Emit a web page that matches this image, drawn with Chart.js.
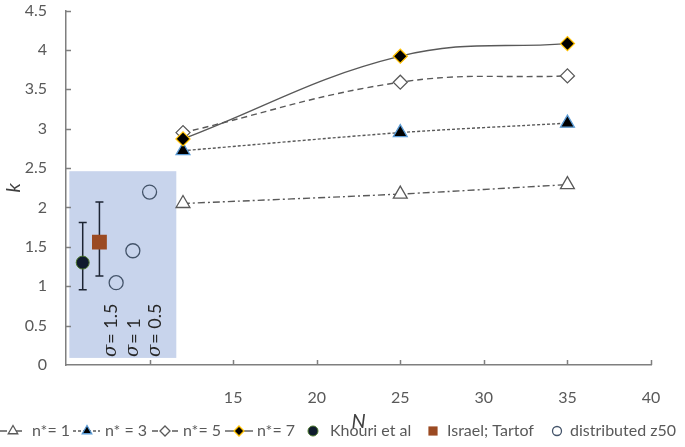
<!DOCTYPE html>
<html><head><meta charset="utf-8">
<script src="https://cdn.jsdelivr.net/npm/chart.js@4/dist/chart.umd.min.js"></script>
<style>html,body{margin:0;padding:0;background:#fff}#wrap{width:685px;height:447px;position:relative}</style>
</head><body><div id="wrap"><canvas id="c" width="685" height="447"></canvas></div>
<script>
// ---- data ----
const N_VALUES = [12, 25, 35];
const K_NSTAR_1 = [2.05, 2.17, 2.29];
const K_NSTAR_3 = [2.72, 2.95, 3.07];
const K_NSTAR_5 = [2.95, 3.59, 3.67];
const K_NSTAR_7 = [2.87, 3.92, 4.08];

const KHOURI_N = [6];
const KHOURI_K = [1.30];
const KHOURI_LOW = [0.955];
const KHOURI_HIGH = [1.81];

const ISRAEL_N = [7];
const ISRAEL_K = [1.56];
const ISRAEL_LOW = [1.13];
const ISRAEL_HIGH = [2.07];

const DIST_N = [8, 9, 10];
const DIST_K = [1.045, 1.45, 2.195];

const SIGMA_LABELS = ['1.5', '1', '0.5'];
const SIGMA_N = [7.7, 9.05, 10.35];
const SIGMA_K = [0.1, 0.1, 0.1];

const BOX_N = [5.2, 11.6];
const BOX_K = [0.09, 2.46];

const X_RANGE = [5, 40];
const X_STEP = 5;
const X_FIRST_LABEL = 15;
const Y_RANGE = [0, 4.5];
const Y_STEP = 0.5;

const SERIES_LABELS = ['n*= 1', 'n* = 3', 'n*= 5', 'n*= 7', 'Khouri et al', 'Israel; Tartof', 'distributed z50'];

const pts = (xs, ys) => xs.map((x, i) => ({x: x, y: ys[i]}));
const FONT = 'Lato';
const GREY = '#595959';

function drawMarker(ctx, style, x, y, r, fill, stroke, lw) {
  ctx.save();
  ctx.setLineDash([]);
  ctx.beginPath();
  if (style === 'triangle') {
    const s = Math.sin(Math.PI / 3) * r;
    ctx.moveTo(x, y - r); ctx.lineTo(x + s, y + r / 2); ctx.lineTo(x - s, y + r / 2); ctx.closePath();
  } else if (style === 'rectRot') {
    ctx.moveTo(x, y - r); ctx.lineTo(x + r, y); ctx.lineTo(x, y + r); ctx.lineTo(x - r, y); ctx.closePath();
  } else if (style === 'rect') {
    const h = r * Math.SQRT1_2;
    ctx.rect(x - h, y - h, 2 * h, 2 * h);
  } else {
    ctx.arc(x, y, r, 0, Math.PI * 2);
  }
  if (fill && fill !== 'transparent') { ctx.fillStyle = fill; ctx.fill(); }
  if (lw) { ctx.lineWidth = lw; ctx.strokeStyle = stroke; ctx.stroke(); }
  ctx.restore();
}

const decor = {
  id: 'decor',
  beforeDatasetsDraw(chart) {
    const {ctx, chartArea: ca} = chart;
    const x = chart.scales.x, y = chart.scales.y;
    ctx.save();
    // shaded box
    const bx0 = x.getPixelForValue(BOX_N[0]), bx1 = x.getPixelForValue(BOX_N[1]);
    const by0 = y.getPixelForValue(BOX_K[1]), by1 = y.getPixelForValue(BOX_K[0]);
    ctx.fillStyle = '#c8d4ec';
    ctx.fillRect(bx0, by0, bx1 - bx0, by1 - by0);
    // inward tick marks
    ctx.strokeStyle = '#7f7f7f';
    ctx.lineWidth = 1.5;
    ctx.beginPath();
    x.ticks.forEach(t => {
      const px = Math.round(x.getPixelForValue(t.value)) + 0.5;
      if (px <= ca.left + 2) return;
      ctx.moveTo(px, ca.bottom); ctx.lineTo(px, ca.bottom - 5);
    });
    y.ticks.forEach(t => {
      const py = Math.round(y.getPixelForValue(t.value)) + 0.5;
      if (py >= ca.bottom - 2) return;
      ctx.moveTo(ca.left, py); ctx.lineTo(ca.left + 5, py);
    });
    ctx.stroke();
    // error bars
    ctx.strokeStyle = '#1c2433';
    ctx.lineWidth = 1.5;
    const bars = [[KHOURI_N, KHOURI_LOW, KHOURI_HIGH], [ISRAEL_N, ISRAEL_LOW, ISRAEL_HIGH]];
    bars.forEach(([xs, lo, hi]) => {
      xs.forEach((v, i) => {
        const px = x.getPixelForValue(v);
        const p0 = y.getPixelForValue(lo[i]), p1 = y.getPixelForValue(hi[i]);
        ctx.beginPath();
        ctx.moveTo(px, p0); ctx.lineTo(px, p1);
        ctx.moveTo(px - 4, p0); ctx.lineTo(px + 4, p0);
        ctx.moveTo(px - 4, p1); ctx.lineTo(px + 4, p1);
        ctx.stroke();
      });
    });
    // sigma labels
    ctx.fillStyle = '#262626';
    ctx.textBaseline = 'middle';
    ctx.textAlign = 'left';
    SIGMA_LABELS.forEach((lab, i) => {
      ctx.save();
      ctx.translate(x.getPixelForValue(SIGMA_N[i]), y.getPixelForValue(SIGMA_K[i]));
      ctx.rotate(-Math.PI / 2);
      ctx.font = 'italic 18px "DejaVu Serif"';
      ctx.fillText('σ', 0, 0);
      const w = ctx.measureText('σ').width;
      ctx.font = '18px ' + FONT;
      ctx.fillText('= ' + lab, w + 1, 0);
      ctx.restore();
    });
    ctx.restore();
  },
  afterDraw(chart) {
    const ctx = chart.ctx;
    const ly = 431;
    const items = [
      {ds: 0, x0: 0, x1: 25, m: 13, tx: 32, r: 5.5},
      {ds: 1, x0: 73, x1: 100, m: 87, tx: 105, r: 5.5},
      {ds: 2, x0: 152, x1: 178, m: 165, tx: 183, r: 5},
      {ds: 3, x0: 225, x1: 253, m: 239, tx: 257, r: 5},
      {ds: 4, m: 313, tx: 330, r: 5},
      {ds: 5, m: 433, tx: 447, r: 6.5},
      {ds: 6, m: 557, tx: 570, r: 4.5}
    ];
    ctx.save();
    items.forEach(it => {
      const ds = chart.data.datasets[it.ds];
      if (it.x0 !== undefined) {
        ctx.save();
        ctx.setLineDash(ds.borderDash || []);
        ctx.strokeStyle = ds.borderColor;
        ctx.lineWidth = ds.borderWidth;
        ctx.beginPath(); ctx.moveTo(it.x0, ly); ctx.lineTo(it.x1, ly); ctx.stroke();
        ctx.restore();
      }
      drawMarker(ctx, ds.pointStyle, it.m, ly, it.r, ds.pointBackgroundColor, ds.pointBorderColor, ds.pointBorderWidth);
      ctx.fillStyle = GREY;
      ctx.font = '16px ' + FONT;
      ctx.textBaseline = 'middle';
      ctx.textAlign = 'left';
      ctx.fillText(ds.label, it.tx, ly);
    });
    ctx.restore();
  }
};

const lineDs = (label, ys, dash, style, radius, bg, border, order, tension) => ({
  label: label, data: pts(N_VALUES, ys), showLine: true, fill: false,
  borderColor: GREY, borderWidth: 1.4, borderDash: dash, tension: tension,
  pointStyle: style, pointRadius: radius, pointHoverRadius: radius,
  pointBackgroundColor: bg, pointBorderColor: border, pointBorderWidth: 1.3, order: order
});

new Chart(document.getElementById('c'), {
  type: 'scatter',
  data: {
    datasets: [
      lineDs(SERIES_LABELS[0], K_NSTAR_1, [7, 3, 2, 3], 'triangle', 8, '#ffffff', GREY, 7, 0.3),
      lineDs(SERIES_LABELS[1], K_NSTAR_3, [3, 2], 'triangle', 8, '#000000', '#5b9bd5', 6, 0.3),
      lineDs(SERIES_LABELS[2], K_NSTAR_5, [6, 4], 'rectRot', 7, '#ffffff', GREY, 5, 0.4),
      lineDs(SERIES_LABELS[3], K_NSTAR_7, [], 'rectRot', 7, '#000000', '#ffc000', 4, 0.4),
      {label: SERIES_LABELS[4], data: pts(KHOURI_N, KHOURI_K), showLine: false,
       pointStyle: 'circle', pointRadius: 6.5, pointHoverRadius: 6.5,
       pointBackgroundColor: '#0f1b2d', pointBorderColor: '#4e7a2e', pointBorderWidth: 1, order: 3},
      {label: SERIES_LABELS[5], data: pts(ISRAEL_N, ISRAEL_K), showLine: false,
       pointStyle: 'rect', pointRadius: 10.5, pointHoverRadius: 10.5,
       pointBackgroundColor: '#9b4a22', pointBorderColor: '#9b4a22', pointBorderWidth: 0, order: 2},
      {label: SERIES_LABELS[6], data: pts(DIST_N, DIST_K), showLine: false,
       pointStyle: 'circle', pointRadius: 7, pointHoverRadius: 7,
       pointBackgroundColor: 'transparent', pointBorderColor: '#44546a', pointBorderWidth: 1.3, order: 1}
    ]
  },
  options: {
    responsive: false,
    animation: false,
    events: [],
    layout: {padding: {top: 6.5, right: 34, bottom: 0, left: 0}},
    plugins: {legend: {display: false}, tooltip: {enabled: false}},
    scales: {
      x: {
        type: 'linear', min: X_RANGE[0], max: X_RANGE[1],
        grid: {drawOnChartArea: false, drawTicks: false},
        border: {color: '#7f7f7f', width: 1.5},
        ticks: {stepSize: X_STEP, padding: 23, color: GREY, font: {family: FONT, size: 16},
                callback: v => (v < X_FIRST_LABEL ? '' : String(v))},
        title: {display: true, text: 'N', color: '#404040',
                font: {family: FONT, size: 20, style: 'italic'}, padding: {top: 0, bottom: 13}},
        afterFit: s => { s.height = 82; s.paddingLeft = 0; s.paddingRight = 0; }
      },
      y: {
        min: Y_RANGE[0], max: Y_RANGE[1],
        grid: {drawOnChartArea: false, drawTicks: false},
        border: {color: '#7f7f7f', width: 1.5},
        ticks: {stepSize: Y_STEP, padding: 19, color: GREY, font: {family: FONT, size: 16},
                callback: v => String(Number(v.toFixed(2)))},
        title: {display: true, text: 'k', color: '#404040',
                font: {family: FONT, size: 20, style: 'italic'}, padding: {top: 2, bottom: 0}},
        afterFit: s => { s.width = 66; s.paddingTop = 0; s.paddingBottom = 0; }
      }
    }
  },
  plugins: [decor]
});
</script>
</body></html>
